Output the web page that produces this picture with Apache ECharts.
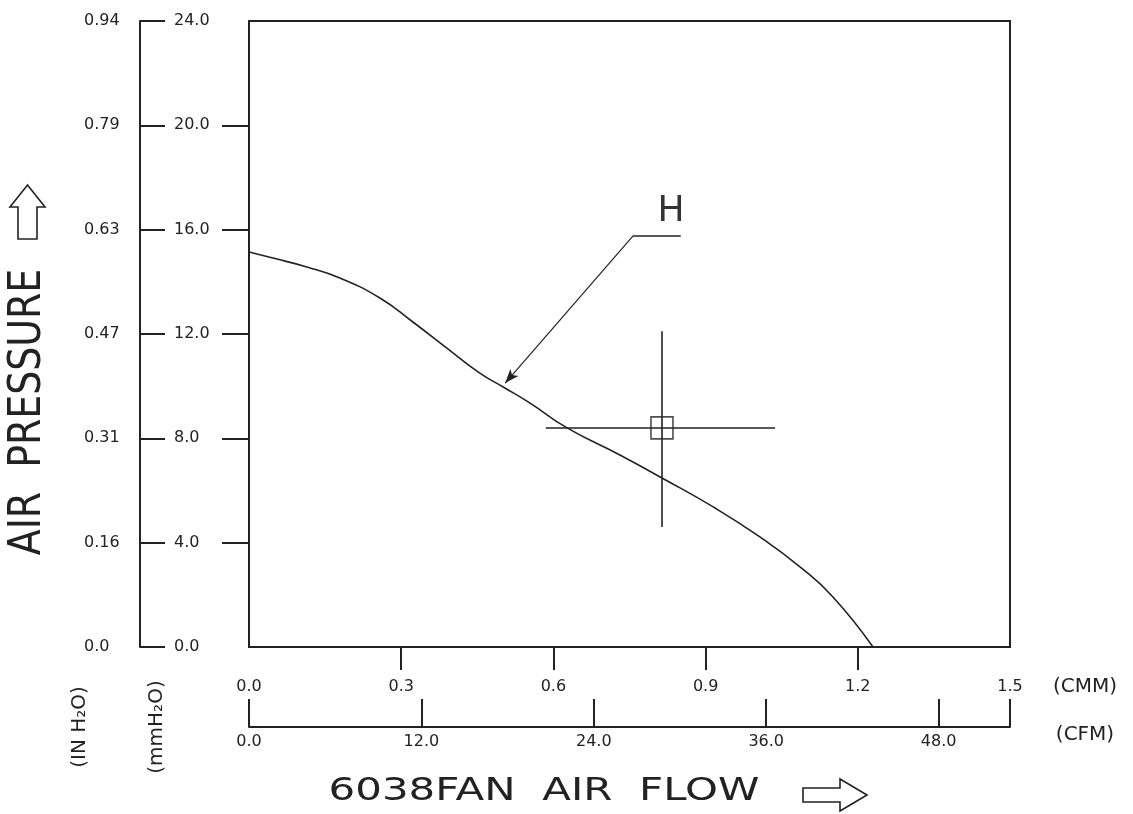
<!DOCTYPE html>
<html><head><meta charset="utf-8">
<script src="https://cdn.jsdelivr.net/npm/echarts@6/dist/echarts.min.js"></script>
<style>html,body{margin:0;padding:0;background:#fff}#c{width:1133px;height:814px}</style>
</head><body><div id="c"></div>
<script>
// ---- data ----
const FLOW_CMM    = [0, 0.047, 0.114, 0.179, 0.258, 0.323, 0.390, 0.455, 0.501, 0.554, 0.627, 0.731, 0.814, 0.915, 1.007, 1.086, 1.151, 1.230];
const PRESSURE_MM = [15.14, 14.91, 14.57, 14.15, 13.38, 12.46, 11.46, 10.50, 9.97, 9.35, 8.40, 7.36, 6.48, 5.37, 4.22, 3.07, 1.92, 0];

const CMM_TICKS  = [0, 0.3, 0.6, 0.9, 1.2, 1.5];
const CMM_LABELS = ['0.0', '0.3', '0.6', '0.9', '1.2', '1.5'];
const CFM_TICKS  = [0, 12, 24, 36, 48];
const CFM_LABELS = ['0.0', '12.0', '24.0', '36.0', '48.0'];
const CFM_MAX    = 52.97;
const MM_TICKS   = [0, 4, 8, 12, 16, 20, 24];
const MM_LABELS  = ['0.0', '4.0', '8.0', '12.0', '16.0', '20.0', '24.0'];
const INH2O_LABELS = ['0.0', '0.16', '0.31', '0.47', '0.63', '0.79', '0.94'];

const OPERATING_POINT = [0.814, 8.40];
const CROSS_X = [0.585, 1.037];
const CROSS_Y = [4.60, 12.11];
const LEADER  = [[0.851, 15.76], [0.757, 15.76], [0.505, 10.12]];
const H_LABEL_POS = [0.832, 16.68];
const CURVE_NAME = 'H';

// ---- chart ----
const FONT = "'DejaVu Sans', 'Liberation Sans', sans-serif";
const INK = '#222';
const chart = echarts.init(document.getElementById('c'), null, {renderer: 'canvas'});

function pick(ticks, labels) {
  return v => { const i = ticks.findIndex(t => Math.abs(t - v) < 1e-9); return i >= 0 ? labels[i] : ''; };
}
const lbl = {color: INK, fontFamily: FONT, fontSize: 16};
const axLine = {show: true, onZero: false, lineStyle: {color: INK, width: 2}};

const option = {
  backgroundColor: '#fff',
  animation: false,
  grid: {left: 249, top: 21, width: 761, height: 626, show: true, borderColor: INK, borderWidth: 2, backgroundColor: 'transparent'},
  xAxis: [
    {type: 'value', position: 'bottom', min: 0, max: 1.5, interval: 0.3,
     axisLine: axLine,
     axisTick: {show: true, inside: false, length: 23, customValues: CMM_TICKS.slice(1, -1), lineStyle: {color: INK, width: 2}},
     axisLabel: Object.assign({margin: 32, customValues: CMM_TICKS, formatter: pick(CMM_TICKS, CMM_LABELS)}, lbl),
     splitLine: {show: false}},
    {type: 'value', position: 'bottom', offset: 80, min: 0, max: CFM_MAX, interval: 12,
     axisLine: axLine,
     axisTick: {show: true, inside: true, length: 28, customValues: CFM_TICKS.concat([CFM_MAX]), lineStyle: {color: INK, width: 2}},
     axisLabel: Object.assign({margin: 7, customValues: CFM_TICKS, formatter: pick(CFM_TICKS, CFM_LABELS)}, lbl),
     splitLine: {show: false}}
  ],
  yAxis: [
    {type: 'value', position: 'left', min: 0, max: 24, interval: 4,
     axisLine: axLine,
     axisTick: {show: true, inside: false, length: 27, customValues: MM_TICKS.slice(1, -1), lineStyle: {color: INK, width: 2}},
     axisLabel: Object.assign({margin: 75, align: 'left', customValues: MM_TICKS, formatter: pick(MM_TICKS, MM_LABELS)}, lbl),
     splitLine: {show: false}},
    {type: 'value', position: 'left', offset: 109, min: 0, max: 24, interval: 4,
     axisLine: axLine,
     axisTick: {show: true, inside: true, length: 25, customValues: MM_TICKS, lineStyle: {color: INK, width: 2}},
     axisLabel: Object.assign({margin: 56, align: 'left', customValues: MM_TICKS, formatter: pick(MM_TICKS, INH2O_LABELS)}, lbl),
     splitLine: {show: false}}
  ],
  series: [
    {name: CURVE_NAME, type: 'line', xAxisIndex: 0, yAxisIndex: 0, smooth: 0.5, symbol: 'none',
     data: FLOW_CMM.map((x, i) => [x, PRESSURE_MM[i]]),
     lineStyle: {color: INK, width: 1.6}, silent: true,
     markLine: {silent: true, symbol: ['none', 'none'], label: {show: false},
       lineStyle: {color: INK, width: 1.6, type: 'solid'}, emphasis: {disabled: true},
       data: [
         [{coord: [CROSS_X[0], OPERATING_POINT[1]]}, {coord: [CROSS_X[1], OPERATING_POINT[1]]}],
         [{coord: [OPERATING_POINT[0], CROSS_Y[0]]}, {coord: [OPERATING_POINT[0], CROSS_Y[1]]}],
         [{coord: LEADER[0]}, {coord: LEADER[1]}],
         [{coord: LEADER[1], lineStyle: {width: 1.2}}, {coord: LEADER[2], symbol: 'arrow', symbolSize: [8, 14]}]
       ]}},
    {type: 'scatter', xAxisIndex: 0, yAxisIndex: 0, silent: true,
     data: [OPERATING_POINT], symbol: 'rect', symbolSize: 22,
     itemStyle: {color: 'rgba(0,0,0,0)', borderColor: INK, borderWidth: 1.6}},
    {type: 'scatter', xAxisIndex: 0, yAxisIndex: 0, silent: true,
     data: [H_LABEL_POS], symbolSize: 1, itemStyle: {color: 'rgba(0,0,0,0)'},
     label: {show: true, position: 'inside', formatter: CURVE_NAME, color: '#000', fontFamily: FONT, fontSize: 36}}
  ],
  graphic: [
    {type: 'text', x: 29, y: 412, rotation: Math.PI / 2, scaleX: 0.86, silent: true,
     style: {text: 'AIR  PRESSURE', fill: INK, font: "44px 'DejaVu Sans'", align: 'center', verticalAlign: 'middle'}},
    {type: 'polygon', silent: true,
     shape: {points: [[27.5, 185], [45, 207], [37, 207], [37, 239], [18, 239], [18, 207], [10, 207]]},
     style: {fill: 'none', stroke: INK, lineWidth: 1.6}},
    {type: 'text', x: 544, y: 792, scaleX: 1.31, silent: true,
     style: {text: '6038FAN  AIR  FLOW', fill: INK, font: "32px 'DejaVu Sans'", align: 'center', verticalAlign: 'middle'}},
    {type: 'polygon', silent: true,
     shape: {points: [[803, 788], [840, 788], [840, 779], [867, 795], [840, 811], [840, 802], [803, 802]]},
     style: {fill: 'none', stroke: INK, lineWidth: 1.6}},
    {type: 'text', x: 80, y: 727, rotation: Math.PI / 2, silent: true,
     style: {text: '(IN H₂O)', fill: INK, font: "20px 'DejaVu Sans'", align: 'center', verticalAlign: 'middle'}},
    {type: 'text', x: 157, y: 727, rotation: Math.PI / 2, silent: true,
     style: {text: '(mmH₂O)', fill: INK, font: "20px 'DejaVu Sans'", align: 'center', verticalAlign: 'middle'}},
    {type: 'text', x: 1085, y: 687, silent: true,
     style: {text: '(CMM)', fill: INK, font: "20px 'DejaVu Sans'", align: 'center', verticalAlign: 'middle'}},
    {type: 'text', x: 1085, y: 735, silent: true,
     style: {text: '(CFM)', fill: INK, font: "20px 'DejaVu Sans'", align: 'center', verticalAlign: 'middle'}}
  ]
};
chart.setOption(option);
</script>
</body></html>
